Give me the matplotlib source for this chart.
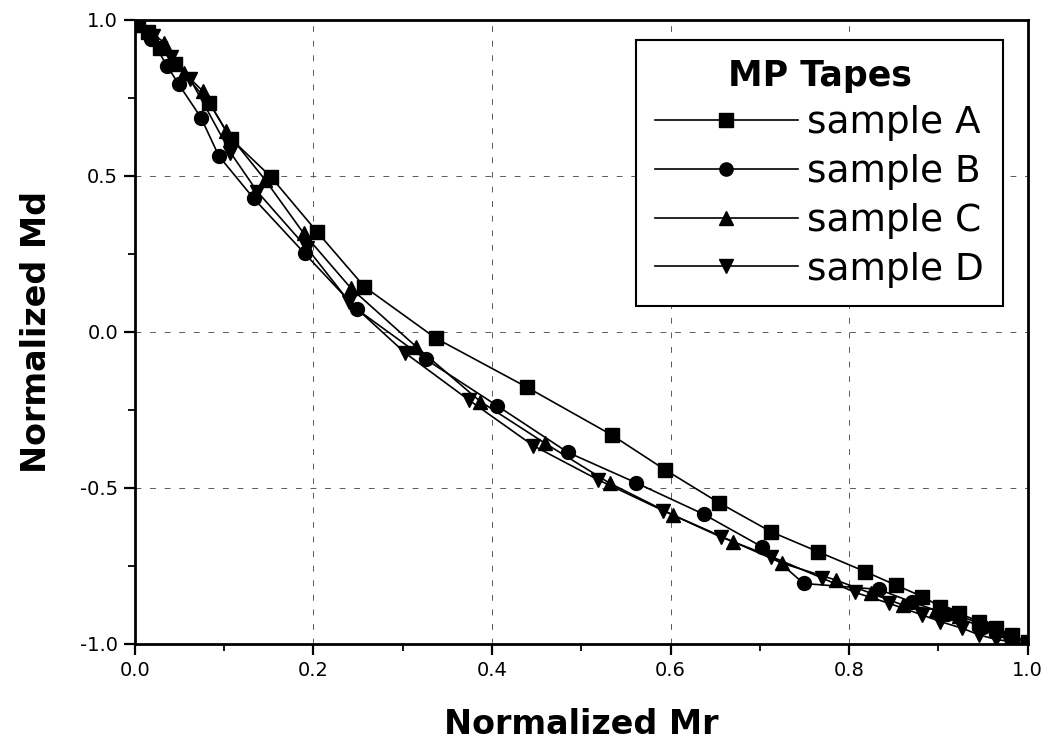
import numpy as np
import matplotlib.pyplot as plt
from matplotlib.ticker import MultipleLocator

plt.rcParams['font.family'] = ['DejaVu Sans']

# sample A (squares)
mr_a = [0.004, 0.015, 0.028, 0.045, 0.083, 0.108, 0.152, 0.204, 0.257, 0.337, 0.439,
        0.534, 0.594, 0.654, 0.713, 0.765, 0.818, 0.852, 0.882, 0.902, 0.923, 0.946,
        0.964, 0.983, 1.0]
md_a = [0.99, 0.96, 0.91, 0.86, 0.735, 0.618, 0.498, 0.321, 0.145, -0.020, -0.177,
        -0.330, -0.442, -0.547, -0.641, -0.704, -0.768, -0.811, -0.848, -0.880, -0.902,
        -0.928, -0.949, -0.971, -0.995]

# sample B (circles)
mr_b = [0.004, 0.018, 0.036, 0.049, 0.074, 0.094, 0.133, 0.190, 0.249, 0.326, 0.406,
        0.485, 0.561, 0.637, 0.702, 0.749, 0.833, 0.870, 0.910, 0.950, 0.980, 1.0]
md_b = [0.985, 0.94, 0.853, 0.794, 0.687, 0.564, 0.428, 0.252, 0.072, -0.088, -0.237,
        -0.386, -0.483, -0.584, -0.688, -0.806, -0.825, -0.865, -0.905, -0.945, -0.975, -0.998]

# sample C (up triangles)
mr_c = [0.006, 0.018, 0.033, 0.055, 0.076, 0.102, 0.146, 0.189, 0.242, 0.315, 0.387,
        0.459, 0.532, 0.603, 0.670, 0.725, 0.785, 0.824, 0.860, 0.897, 0.923, 0.946,
        0.964, 0.982, 1.0]
md_c = [0.985, 0.96, 0.927, 0.831, 0.772, 0.644, 0.487, 0.316, 0.140, -0.047, -0.223,
        -0.356, -0.485, -0.587, -0.672, -0.741, -0.795, -0.837, -0.875, -0.890, -0.910,
        -0.933, -0.955, -0.975, -0.998]

# sample D (down triangles)
mr_d = [0.005, 0.020, 0.040, 0.062, 0.107, 0.137, 0.193, 0.240, 0.303, 0.374, 0.446,
        0.519, 0.592, 0.657, 0.713, 0.770, 0.807, 0.845, 0.882, 0.902, 0.927, 0.946,
        0.964, 0.982, 1.0]
md_d = [0.99, 0.95, 0.88, 0.81, 0.575, 0.450, 0.268, 0.097, -0.068, -0.218, -0.364,
        -0.474, -0.573, -0.658, -0.720, -0.789, -0.835, -0.870, -0.907, -0.928, -0.950,
        -0.971, -0.985, -0.993, -1.0]

labels = ['sample A', 'sample B', 'sample C', 'sample D']
markers = ['s', 'o', '^', 'v']

fig = plt.figure(figsize=(10.54, 7.51), dpi=100)
ax = fig.add_axes([0.128, 0.1425, 0.847, 0.831])

series = [(mr_a, md_a), (mr_b, md_b), (mr_c, md_c), (mr_d, md_d)]
for (x, y), lab, mk in zip(series, labels, markers):
    ax.plot(x, y, color='black', lw=1.2, marker=mk, ms=10, mfc='black', mec='black',
            label=lab)

ax.set_xlim(0, 1)
ax.set_ylim(-1, 1)
ax.xaxis.set_major_locator(MultipleLocator(0.2))
ax.xaxis.set_minor_locator(MultipleLocator(0.1))
ax.yaxis.set_major_locator(MultipleLocator(0.5))
ax.yaxis.set_minor_locator(MultipleLocator(0.25))
ax.xaxis.set_major_formatter(plt.FormatStrFormatter('%.1f'))
ax.yaxis.set_major_formatter(plt.FormatStrFormatter('%.1f'))
ax.tick_params(which='major', direction='out', length=8, width=1.6, labelsize=14, pad=4)
ax.tick_params(which='minor', direction='out', length=5, width=1.3)
for s in ax.spines.values():
    s.set_linewidth(2)

ax.grid(True, which='major', color='0.35', lw=0.7, ls=(0, (6, 9)))

ax.set_xlabel('Normalized Mr', fontsize=24, fontweight='bold')
ax.set_ylabel('Normalized Md', fontsize=24, fontweight='bold')
ax.xaxis.set_label_coords(0.5, -0.102)
ax.yaxis.set_label_coords(-0.092, 0.5)

leg = ax.legend(loc='upper right', bbox_to_anchor=(0.972, 0.968), borderaxespad=0,
                title='MP Tapes', fontsize=27,
                title_fontproperties={'size': 25, 'weight': 'bold'},
                handlelength=3.8, handletextpad=0.25, labelspacing=0.34, borderpad=0.5,
                markerscale=0.95, fancybox=False, framealpha=1, edgecolor='black')
leg.get_frame().set_linewidth(1.5)

fig.savefig('out.png', dpi=100)
